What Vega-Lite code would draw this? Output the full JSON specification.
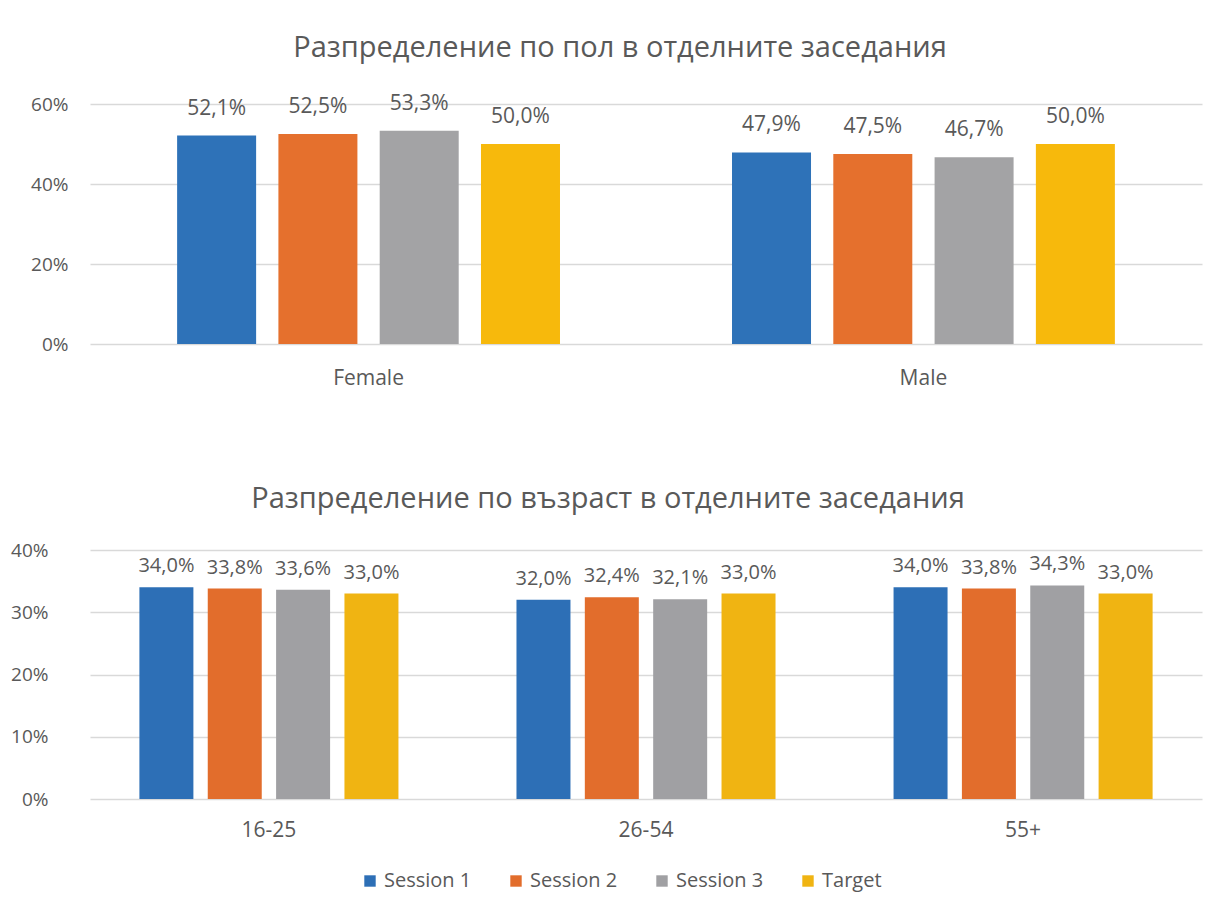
{
  "$schema": "https://vega.github.io/schema/vega-lite/v6.json",
  "background": "white",
  "padding": {"left": 10, "top": 33, "right": 8, "bottom": 10},
  "spacing": 97,
  "columns": 1,
  "align": "none",
  "config": {
    "locale": {"number": {"decimal": ",", "thousands": " ", "grouping": [3], "currency": ["", ""]}},
    "font": "Open Sans",
    "view": {"stroke": null},
    "axis": {"labelColor": "#595959", "labelFont": "Open Sans", "domain": false, "ticks": false, "gridColor": "#d9d9d9", "gridWidth": 1.5},
    "title": {"color": "#595959", "font": "Open Sans", "fontWeight": "normal", "fontSize": 29, "anchor": "middle"},
    "legend": {"labelColor": "#595959", "labelFont": "Open Sans"}
  },
  "resolve": {"scale": {"x": "independent", "xOffset": "independent", "y": "independent", "color": "independent"}, "legend": {"color": "independent"}},
  "datasets": {
    "sex": [
      {"group": "Female", "series": "Session 1", "value": 0.521},
      {"group": "Female", "series": "Session 2", "value": 0.525},
      {"group": "Female", "series": "Session 3", "value": 0.533},
      {"group": "Female", "series": "Target", "value": 0.5},
      {"group": "Male", "series": "Session 1", "value": 0.479},
      {"group": "Male", "series": "Session 2", "value": 0.475},
      {"group": "Male", "series": "Session 3", "value": 0.467},
      {"group": "Male", "series": "Target", "value": 0.5}
    ],
    "age": [
      {"group": "16-25", "series": "Session 1", "value": 0.34},
      {"group": "16-25", "series": "Session 2", "value": 0.338},
      {"group": "16-25", "series": "Session 3", "value": 0.336},
      {"group": "16-25", "series": "Target", "value": 0.33},
      {"group": "26-54", "series": "Session 1", "value": 0.32},
      {"group": "26-54", "series": "Session 2", "value": 0.324},
      {"group": "26-54", "series": "Session 3", "value": 0.321},
      {"group": "26-54", "series": "Target", "value": 0.33},
      {"group": "55+", "series": "Session 1", "value": 0.34},
      {"group": "55+", "series": "Session 2", "value": 0.338},
      {"group": "55+", "series": "Session 3", "value": 0.343},
      {"group": "55+", "series": "Target", "value": 0.33}
    ]
  },
  "concat": [
    {
      "title": {"text": "Разпределение по пол в отделните заседания", "offset": 30, "dx": -26},
      "width": 1112,
      "height": 240,
      "data": {"name": "sex"},
      "encoding": {
        "x": {"field": "group", "type": "nominal", "sort": ["Female", "Male"], "scale": {"paddingInner": 0.31, "paddingOuter": 0.157}, "axis": {"title": null, "labelAngle": 0, "labelPadding": 23, "labelFontSize": 21}},
        "xOffset": {"field": "series", "type": "nominal", "sort": ["Session 1", "Session 2", "Session 3", "Target"], "scale": {"paddingInner": 0.22, "paddingOuter": 0}},
        "y": {"field": "value", "type": "quantitative", "scale": {"domain": [0, 0.6]}, "axis": {"title": null, "format": ".0%", "values": [0, 0.2, 0.4, 0.6], "labelPadding": 22, "labelFontSize": 19, "minExtent": 78, "maxExtent": 78}}
      },
      "layer": [
        {
          "mark": {"type": "bar"},
          "encoding": {
            "color": {"field": "series", "type": "nominal", "sort": ["Session 1", "Session 2", "Session 3", "Target"], "scale": {"domain": ["Session 1", "Session 2", "Session 3", "Target"], "range": ["#2e72b8", "#e5702d", "#a3a3a5", "#f7b90c"]}, "legend": null}
          }
        },
        {
          "mark": {"type": "text", "baseline": "bottom", "dy": -17, "fontSize": 21, "color": "#595959"},
          "encoding": {"text": {"field": "value", "type": "quantitative", "format": ".1%"}}
        }
      ]
    },
    {
      "title": {"text": "Разпределение по възраст в отделните заседания", "offset": 27, "dx": -38},
      "width": 1112,
      "height": 249,
      "data": {"name": "age"},
      "encoding": {
        "x": {"field": "group", "type": "nominal", "sort": ["16-25", "26-54", "55+"], "scale": {"paddingInner": 0.313, "paddingOuter": 0.131}, "axis": {"title": null, "labelAngle": 0, "labelPadding": 20, "labelFontSize": 21}},
        "xOffset": {"field": "series", "type": "nominal", "sort": ["Session 1", "Session 2", "Session 3", "Target"], "scale": {"paddingInner": 0.21, "paddingOuter": 0}},
        "y": {"field": "value", "type": "quantitative", "scale": {"domain": [0, 0.4]}, "axis": {"title": null, "format": ".0%", "values": [0, 0.1, 0.2, 0.3, 0.4], "offset": 20, "labelPadding": 22, "labelFontSize": 19, "minExtent": 58, "maxExtent": 58}}
      },
      "layer": [
        {
          "mark": {"type": "bar"},
          "encoding": {
            "color": {"field": "series", "type": "nominal", "sort": ["Session 1", "Session 2", "Session 3", "Target"], "scale": {"domain": ["Session 1", "Session 2", "Session 3", "Target"], "range": ["#2d6fb6", "#e26d2c", "#a0a0a3", "#f0b412"]}, "legend": {"orient": "none", "legendX": 270, "legendY": 321, "direction": "horizontal", "title": null, "symbolType": "square", "symbolSize": 130, "symbolStrokeWidth": 0, "labelFontSize": 20, "columnPadding": 34, "labelOffset": 4}}
          }
        },
        {
          "mark": {"type": "text", "baseline": "bottom", "dy": -11, "fontSize": 20, "color": "#595959"},
          "encoding": {"text": {"field": "value", "type": "quantitative", "format": ".1%"}}
        }
      ]
    }
  ]
}
